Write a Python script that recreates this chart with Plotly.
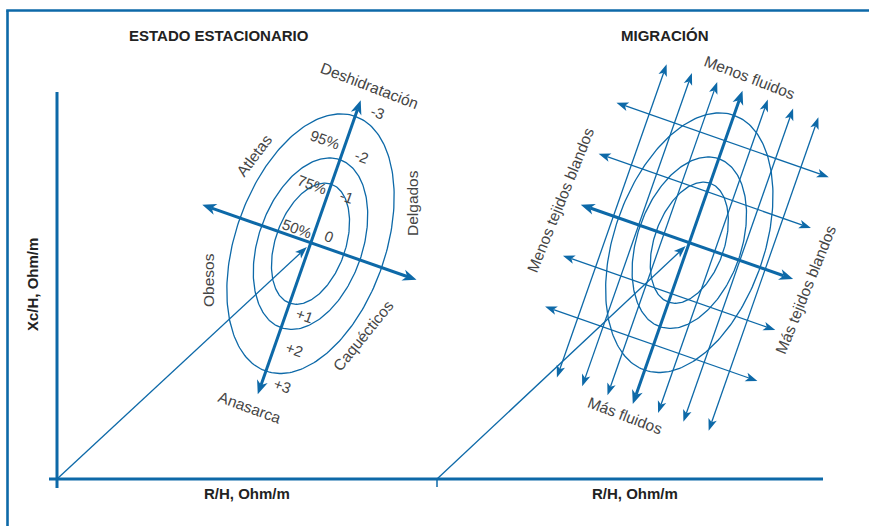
import math
import plotly.graph_objects as go

# ---------------- data ----------------
BLUE = "#0d69a8"
TEXT = "#454545"
TITLE = "#222222"

PANEL_TITLES = ["ESTADO ESTACIONARIO", "MIGRACIÓN"]
X_AXIS_TITLE = "R/H, Ohm/m"
Y_AXIS_TITLE = "Xc/H, Ohm/m"

# tolerance ellipses (percentiles) in the rotated frame (u = along major axis, v = along minor)
ELLIPSE_LEVELS = ["50%", "75%", "95%"]
SEMI_MAJOR = [63, 89, 135]
SEMI_MINOR = [35, 52, 75]
LEVEL_LABEL_U = [10, 56, 103]
LEVEL_LABEL_V = [-18, -18, -21]

# z-score labels along the major axis
Z_LABELS = ["-3", "-2", "-1", "0", "+1", "+2", "+3"]
Z_LABEL_U = [146, 99, 56, 13, -70, -105, -143]
Z_LABEL_V = [20, 19, 18, 15, 18, 20, 20]

TILT_DEG = 19.3
PANEL_ORIGIN_X = [57, 437]
AXIS_Y = 479
CENTER_X = [310.5, 689.3]
CENTER_Y = [243.7, 242.7]

# steady-state panel axis arrows (extent in rotated frame)
MAJOR_EXTENT_LEFT = [-159.6, 151.9]
MINOR_EXTENT_LEFT = [-115, 112]

# migration panel grid of arrows
FLUID_LINE_STEPS = [-3, -2, -1, 0, 1, 2, 3]
FLUID_STEP = 26.8
FLUID_EXTENT = [-171, 161]
TISSUE_LINE_STEPS = [-2, -1, 0, 1, 2]
TISSUE_STEP = 54
TISSUE_EXTENT = [-115, 110]

# text labels: (text, x, y, angle)
LEFT_LABELS = [
    ("Deshidratación", 369, 85, 21),
    ("Anasarca", 250, 407, 20),
    ("Atletas", 254, 155, -53),
    ("Delgados", 412, 203, -90),
    ("Obesos", 208, 280, -90),
    ("Caquécticos", 363, 335, -51),
]
RIGHT_LABELS = [
    ("Menos fluidos", 750, 77, 21),
    ("Más fluidos", 625, 415, 21),
    ("Menos tejidos blandos", 560, 200, -68),
    ("Más tejidos blandos", 805, 290, -68),
]

# ---------------- helpers ----------------
S = math.sin(math.radians(TILT_DEG))
C = math.cos(math.radians(TILT_DEG))


def to_xy(panel, u, v):
    cx, cy = CENTER_X[panel], CENTER_Y[panel]
    return cx + u * S + v * C, cy - u * C + v * S


shapes = []
annotations = []
fig = go.Figure()


def line(x0, y0, x1, y1, width, color=BLUE):
    shapes.append(dict(type="line", xref="x", yref="y", x0=x0, y0=y0, x1=x1, y1=y1,
                       line=dict(color=color, width=width)))


def head(tx, ty, dx, dy, L, W, N):
    nx, ny = -dy, dx
    bx, by = tx - L * dx, ty - L * dy
    p1 = (bx + W * nx, by + W * ny)
    p2 = (tx - (L - N) * dx, ty - (L - N) * dy)
    p3 = (bx - W * nx, by - W * ny)
    path = (f"M{tx:.2f},{ty:.2f} L{p1[0]:.2f},{p1[1]:.2f} L{p2[0]:.2f},{p2[1]:.2f} "
            f"L{p3[0]:.2f},{p3[1]:.2f} Z")
    shapes.append(dict(type="path", xref="x", yref="y", path=path,
                       fillcolor=BLUE, line=dict(width=0)))


def arrow(x0, y0, x1, y1, width, both=False, thick=False):
    L, W, N = (14, 5.6, 4) if thick else (12, 4.4, 3)
    dist = math.hypot(x1 - x0, y1 - y0)
    dx, dy = (x1 - x0) / dist, (y1 - y0) / dist
    ex, ey = x1 - (L - N) * dx, y1 - (L - N) * dy
    sx, sy = x0, y0
    if both:
        sx, sy = x0 + (L - N) * dx, y0 + (L - N) * dy
        head(x0, y0, -dx, -dy, L, W, N)
    head(x1, y1, dx, dy, L, W, N)
    line(sx, sy, ex, ey, width)


def text(t, x, y, angle=0, size=15, color=TEXT):
    annotations.append(dict(text=t, x=x, y=y, xref="x", yref="y", showarrow=False,
                            textangle=angle, xanchor="center", yanchor="middle",
                            font=dict(family="Liberation Sans, Arial, sans-serif",
                                      size=size, color=color)))


# ---------------- frame & axes ----------------
line(7.5, 10.5, 7.5, 526, 2.6)
line(6.2, 10.5, 869, 10.5, 2.6)
line(PANEL_ORIGIN_X[0], 92, PANEL_ORIGIN_X[0], 488, 3)
line(49, AXIS_Y, 823, AXIS_Y, 3)
line(PANEL_ORIGIN_X[1], AXIS_Y, PANEL_ORIGIN_X[1], 487, 1.5)

# ---------------- ellipses (both panels) ----------------
for panel in (0, 1):
    for a, b in zip(SEMI_MAJOR, SEMI_MINOR):
        xs, ys = [], []
        for i in range(241):
            t = 2 * math.pi * i / 240
            x, y = to_xy(panel, a * math.cos(t), b * math.sin(t))
            xs.append(x)
            ys.append(y)
        fig.add_trace(go.Scatter(x=xs, y=ys, mode="lines", hoverinfo="skip",
                                 line=dict(color=BLUE, width=1.3), showlegend=False))

# ---------------- vectors from origin ----------------
for panel in (0, 1):
    ox, oy = PANEL_ORIGIN_X[panel], AXIS_Y
    cx, cy = CENTER_X[panel], CENTER_Y[panel]
    d = math.hypot(cx - ox, cy - oy)
    stop = d - 5
    arrow(ox, oy, ox + (cx - ox) * stop / d, oy + (cy - oy) * stop / d, 1.3)

# ---------------- left panel axes ----------------
x0, y0 = to_xy(0, MAJOR_EXTENT_LEFT[0], 0)
x1, y1 = to_xy(0, MAJOR_EXTENT_LEFT[1], 0)
arrow(x0, y0, x1, y1, 3, both=True, thick=True)
x0, y0 = to_xy(0, 1, MINOR_EXTENT_LEFT[0])
x1, y1 = to_xy(0, 1, MINOR_EXTENT_LEFT[1])
arrow(x0, y0, x1, y1, 3, both=True, thick=True)

# ---------------- right panel grid ----------------
for k in FLUID_LINE_STEPS:
    v = k * FLUID_STEP
    x0, y0 = to_xy(1, FLUID_EXTENT[0], v)
    x1, y1 = to_xy(1, FLUID_EXTENT[1], v)
    if k == 0:
        arrow(x0, y0, x1, y1, 3, both=True, thick=True)
    else:
        arrow(x0, y0, x1, y1, 1.3, both=True)
for j in TISSUE_LINE_STEPS:
    u = j * TISSUE_STEP
    x0, y0 = to_xy(1, u, TISSUE_EXTENT[0])
    x1, y1 = to_xy(1, u, TISSUE_EXTENT[1])
    if j == 0:
        arrow(x0, y0, x1, y1, 3, both=True, thick=True)
    else:
        arrow(x0, y0, x1, y1, 1.3, both=True)

# ---------------- texts ----------------
text(f"<b>{PANEL_TITLES[0]}</b>", 219, 35, size=15, color=TITLE)
text(f"<b>{PANEL_TITLES[1]}</b>", 665, 35, size=15, color=TITLE)
text(f"<b>{X_AXIS_TITLE}</b>", 247, 493, size=15, color=TITLE)
text(f"<b>{X_AXIS_TITLE}</b>", 635, 493, size=15, color=TITLE)
text(f"<b>{Y_AXIS_TITLE}</b>", 32, 285, angle=-90, size=15, color=TITLE)

for lab, u, v in zip(ELLIPSE_LEVELS, LEVEL_LABEL_U, LEVEL_LABEL_V):
    x, y = to_xy(0, u, v)
    text(lab, x, y, angle=20, size=15)
for lab, u, v in zip(Z_LABELS, Z_LABEL_U, Z_LABEL_V):
    x, y = to_xy(0, u, v)
    text(lab, x, y, angle=20, size=15)
for lab, x, y, ang in LEFT_LABELS + RIGHT_LABELS:
    text(lab, x, y, angle=ang, size=15.5)

fig.update_layout(
    width=869, height=526,
    margin=dict(l=0, r=0, t=0, b=0),
    paper_bgcolor="white", plot_bgcolor="white",
    xaxis=dict(range=[0, 869], visible=False, fixedrange=True),
    yaxis=dict(range=[526, 0], visible=False, fixedrange=True),
    shapes=shapes, annotations=annotations, showlegend=False,
)

fig.write_html("out.html", config={"displayModeBar": False})
